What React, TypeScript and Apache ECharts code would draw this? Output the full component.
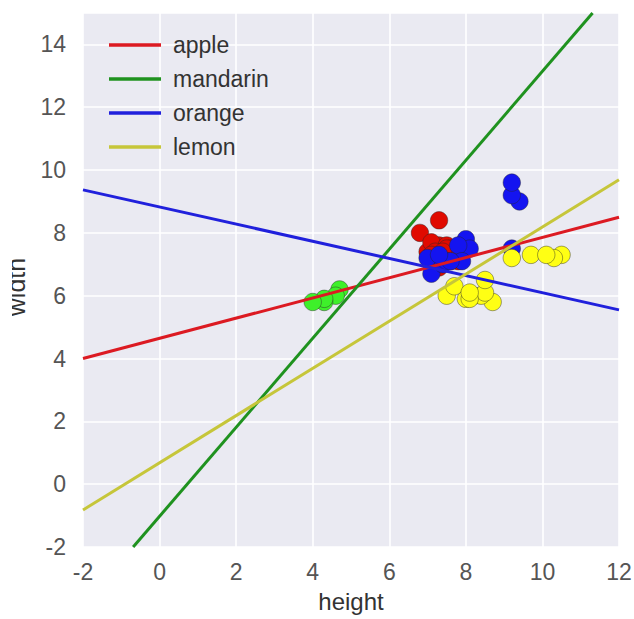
import React, { useEffect, useRef } from "react";
import * as echarts from "echarts";

// Scatter data (height, width) per fruit
const appleHeight = [7.3, 6.8, 7.2, 7.8, 7.0, 7.3, 7.6, 7.1, 7.7, 7.3, 7.1, 7.5, 7.6, 7.1, 7.2, 7.5, 7.4, 7.1, 7.9];
const appleWidth = [8.4, 8.0, 7.4, 7.1, 7.4, 6.9, 7.1, 7.0, 7.3, 7.6, 7.7, 7.6, 7.5, 7.1, 7.4, 7.5, 7.4, 7.3, 7.6];
const mandarinHeight = [4.7, 4.6, 4.3, 4.3, 4.0];
const mandarinWidth = [6.2, 6.0, 5.8, 5.9, 5.8];
const orangeHeight = [9.4, 9.2, 9.2, 9.2, 7.1, 7.4, 7.5, 8.0, 7.0, 8.1, 7.8, 7.9, 7.6, 7.3];
const orangeWidth = [9.0, 9.2, 9.6, 7.5, 6.7, 7.0, 7.1, 7.8, 7.2, 7.5, 7.6, 7.1, 7.1, 7.3];
const lemonHeight = [10.5, 10.3, 9.2, 9.7, 10.1, 8.7, 8.2, 7.5, 8.0, 8.4, 8.5, 7.7, 8.1, 8.5, 8.1];
const lemonWidth = [7.3, 7.2, 7.2, 7.3, 7.3, 5.8, 6.0, 6.0, 5.9, 6.0, 6.1, 6.3, 5.9, 6.5, 6.1];

// Decision lines (endpoints)
const lineNames = ["apple", "mandarin", "orange", "lemon"];
const appleLineX = [-2, 12];
const appleLineY = [4.0, 8.5];
const mandarinLineX = [-0.69, 11.31];
const mandarinLineY = [-2, 15];
const orangeLineX = [-2, 12];
const orangeLineY = [9.37, 5.55];
const lemonLineX = [-2, 12];
const lemonLineY = [-0.82, 9.69];

const xTicks = { min: -2, max: 12, interval: 2 };
const yTicks = { min: -2, max: 15, interval: 2 };

const zip = (a: number[], b: number[]) => a.map((v, i) => [v, b[i]]);

export default function App() {
  const ref = useRef<HTMLDivElement>(null);
  useEffect(() => {
    if (!ref.current) return;
    const chart = echarts.init(ref.current, null, { renderer: "svg" });
    const scatter = (name: string, h: number[], w: number[], color: string) => ({
      name,
      type: "scatter",
      data: zip(h, w),
      symbolSize: 17.5,
      z: 2,
      itemStyle: { color, borderColor: "rgba(40,40,40,0.55)", borderWidth: 0.8, opacity: 1 },
      emphasis: { disabled: true },
    });
    const line = (name: string, x: number[], y: number[], color: string) => ({
      name,
      type: "line",
      data: zip(x, y),
      showSymbol: false,
      z: 3,
      lineStyle: { color, width: 3 },
      itemStyle: { color },
      clip: true,
    });
    chart.setOption({
      animation: false,
      backgroundColor: "#ffffff",
      grid: {
        left: 83, top: 13, width: 536, height: 534, show: true,
        backgroundColor: "#eaeaf2", borderWidth: 0,
        outerBoundsMode: "none", containLabel: false,
      },
      xAxis: {
        type: "value",
        ...xTicks,
        name: "height",
        nameLocation: "middle",
        nameGap: 42,
        nameTextStyle: { fontSize: 24, color: "#333", fontFamily: "Liberation Sans" },
        axisLine: { show: false },
        axisTick: { show: false },
        axisLabel: { fontSize: 23, color: "#555", margin: 13, fontFamily: "Liberation Sans" },
        splitLine: { lineStyle: { color: "#ffffff", width: 1.6 } },
      },
      yAxis: {
        type: "value",
        ...yTicks,
        name: "width",
        nameLocation: "middle",
        nameRotate: 90,
        nameGap: 55,
        nameTextStyle: { fontSize: 25, color: "#333", fontFamily: "Liberation Sans", padding: [0, 14, 0, 0] },
        axisLine: { show: false },
        axisTick: { show: false },
        axisLabel: { fontSize: 23, color: "#555", margin: 17, showMaxLabel: false, fontFamily: "Liberation Sans" },
        splitLine: { lineStyle: { color: "#ffffff", width: 1.6 } },
      },
      legend: {
        data: lineNames,
        orient: "vertical",
        left: 104,
        top: 28,
        icon: "rect",
        itemWidth: 52,
        itemHeight: 3.5,
        itemGap: 10,
        selectedMode: false,
        textStyle: { fontSize: 23, lineHeight: 24, color: "#333", fontFamily: "Liberation Sans", padding: [0, 0, 0, 7] },
      },
      graphic: [
        { type: "rect", left: 0, top: 230, shape: { width: 12, height: 120 }, style: { fill: "#ffffff" }, z: 100 },
      ],
      series: [
        scatter("apple pts", appleHeight, appleWidth, "#e00a00"),
        scatter("mandarin pts", mandarinHeight, mandarinWidth, "#3ef02a"),
        scatter("orange pts", orangeHeight, orangeWidth, "#1414f0"),
        scatter("lemon pts", lemonHeight, lemonWidth, "#ffff14"),
        line("apple", appleLineX, appleLineY, "#dc1a22"),
        line("mandarin", mandarinLineX, mandarinLineY, "#1f921f"),
        line("orange", orangeLineX, orangeLineY, "#2020dc"),
        line("lemon", lemonLineX, lemonLineY, "#c6c63a"),
      ],
    });
    return () => chart.dispose();
  }, []);
  return <div ref={ref} style={{ position: "fixed", left: 0, top: 0, width: 634, height: 619 }} />;
}
